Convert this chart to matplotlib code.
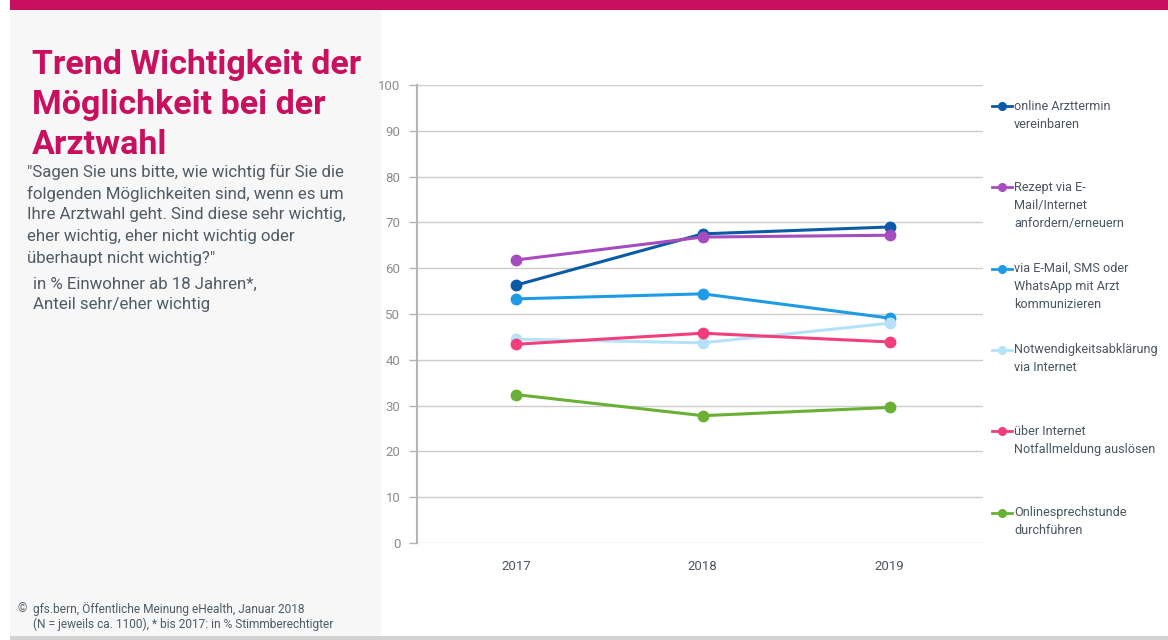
import matplotlib
matplotlib.use("Agg")
import matplotlib.pyplot as plt
from matplotlib.lines import Line2D
from matplotlib.patches import Rectangle

W, H = 1168, 640

years = ["2017", "2018", "2019"]
series_labels = [
    ["online Arzttermin", "vereinbaren"],
    ["Rezept via E-", "Mail/Internet", "anfordern/erneuern"],
    ["via E-Mail, SMS oder", "WhatsApp mit Arzt", "kommunizieren"],
    ["Notwendigkeitsabklärung", "via Internet"],
    ["über Internet", "Notfallmeldung auslösen"],
    ["Onlinesprechstunde", "durchführen"],
]
online_termin = [56.3, 67.5, 69.0]
rezept = [61.8, 66.8, 67.2]
kommunizieren = [53.3, 54.4, 49.1]
notwendigkeit = [44.5, 43.7, 48.0]
notfall = [43.4, 45.8, 43.9]
sprechstunde = [32.4, 27.8, 29.6]
series_values = [online_termin, rezept, kommunizieren, notwendigkeit, notfall, sprechstunde]
colors = ["#0b5aa6", "#a64cbf", "#1e9be6", "#b5e2f8", "#f23f7b", "#69b035"]
yticks = [0, 10, 20, 30, 40, 50, 60, 70, 80, 90, 100]

title_lines = ["Trend Wichtigkeit der", "Möglichkeit bei der", "Arztwahl"]
question_lines = [
    "\"Sagen Sie uns bitte, wie wichtig für Sie die",
    "folgenden Möglichkeiten sind, wenn es um",
    "Ihre Arztwahl geht. Sind diese sehr wichtig,",
    "eher wichtig, eher nicht wichtig oder",
    "überhaupt nicht wichtig?\"",
]
base_lines = ["in % Einwohner ab 18 Jahren*,", "Anteil sehr/eher wichtig"]
footer_lines = ["gfs.bern, Öffentliche Meinung eHealth, Januar 2018",
                "(N = jeweils ca. 1100), * bis 2017: in % Stimmberechtigter"]

textfont = "Roboto"

def fx(x):
    return x / W

def fy(y):
    return 1 - y / H

fig = plt.figure(figsize=(W / 100, H / 100), dpi=100)
fig.patch.set_facecolor("white")

# background panels
fig.add_artist(Rectangle((fx(10), fy(636)), fx(381) - fx(10), fy(10) - fy(636),
                         transform=fig.transFigure, facecolor="#f7f7f7", edgecolor="none", zorder=0))
fig.add_artist(Rectangle((fx(10), fy(10)), 1 - fx(10), 10 / H,
                         transform=fig.transFigure, facecolor="#c8105e", edgecolor="none", zorder=1))
fig.add_artist(Rectangle((fx(10), 0), 1 - fx(10), 4 / H,
                         transform=fig.transFigure, facecolor="#d3d3d3", edgecolor="none", zorder=1))

# title and texts
for i, t in enumerate(title_lines):
    fig.text(fx(32), fy(74 + 40 * i), t, fontsize=24.5, fontweight="bold", color="#c8105e",
             family=textfont, va="baseline", ha="left")
for i, t in enumerate(question_lines):
    fig.text(fx(27), fy(172 + 21.5 * i), t, fontsize=12.2, color="#4f5b66",
             family=textfont, va="center", ha="left")
for i, t in enumerate(base_lines):
    fig.text(fx(33), fy(284 + 20 * i), t, fontsize=12.2, color="#4f5b66",
             family=textfont, va="center", ha="left")
fig.text(fx(17), fy(609), "©", fontsize=8.6, color="#4f5b66", family=textfont, va="center")
for i, t in enumerate(footer_lines):
    fig.text(fx(33), fy(609 + 15 * i), t, fontsize=8.6, color="#4f5b66",
             family=textfont, va="center", ha="left")

# axes
ax = fig.add_axes([fx(417), fy(543), fx(983) - fx(417), fy(85) - fy(543)])
ax.set_facecolor("none")
x = list(range(len(years)))
for vals, c in zip(series_values, colors):
    ax.plot(x, vals, color=c, lw=2.2, marker="o", markersize=7.5, zorder=3, clip_on=False)
ax.set_xlim(-0.53, 2.5)
ax.set_ylim(0, 100)
ax.set_yticks(yticks)
ax.set_xticks(x)
ax.set_xticklabels(years)
ax.grid(axis="y", color="#cccccc", lw=1)
ax.set_axisbelow(True)
for s in ["top", "right", "bottom"]:
    ax.spines[s].set_visible(False)
ax.spines["left"].set_color("#b5b5b5")
ax.spines["left"].set_linewidth(1.5)
ax.tick_params(axis="y", length=6, width=1, color="#b5b5b5", labelcolor="#8c8c8c",
               labelsize=9.5, pad=6)
ax.tick_params(axis="x", length=0, labelcolor="#4a5560", labelsize=9.5, pad=12)
for lab in ax.get_xticklabels() + ax.get_yticklabels():
    lab.set_family(textfont)

# legend
for i, (lines, c) in enumerate(zip(series_labels, colors)):
    y0 = 106 + 81.3 * i
    fig.add_artist(Line2D([fx(992), fx(1012)], [fy(y0), fy(y0)], transform=fig.transFigure,
                          color=c, lw=2))
    fig.add_artist(Line2D([fx(1002)], [fy(y0)], transform=fig.transFigure,
                          color=c, marker="o", markersize=5.5, lw=0))
    for j, t in enumerate(lines):
        fig.text(fx(1014), fy(y0 + 18 * j), t, fontsize=9.1, color="#4a5560",
                 family=textfont, va="center", ha="left")

fig.savefig("out.png", dpi=100)
